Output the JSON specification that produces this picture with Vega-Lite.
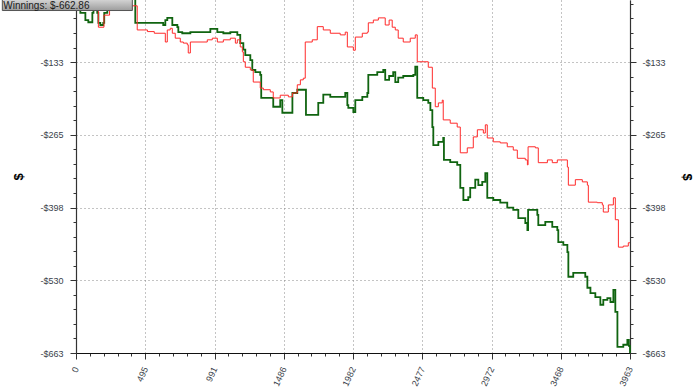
{
  "$schema": "https://vega.github.io/schema/vega-lite/v6.json",
  "width": 554,
  "height": 353,
  "autosize": {"type": "none"},
  "padding": {"left": 76, "top": 0, "right": 70, "bottom": 36},
  "background": "white",
  "config": {"view": {"stroke": null}, "axis": {"labelFont": "Liberation Sans", "titleFont": "Liberation Sans", "grid": false}},
  "datasets": {
    "ev": [
      {"hand":0,"amount":-5},{"hand":60,"amount":-22},{"hand":160,"amount":-69},{"hand":200,"amount":-47},{"hand":240,"amount":-30},{"hand":340,"amount":-38},{"hand":400,"amount":-30},{"hand":438,"amount":-74},{"hand":511,"amount":-77},{"hand":560,"amount":-80},{"hand":639,"amount":-96},{"hand":653,"amount":-74},{"hand":674,"amount":-71},{"hand":689,"amount":-80},{"hand":710,"amount":-89},{"hand":746,"amount":-96},{"hand":768,"amount":-98},{"hand":796,"amount":-101},{"hand":803,"amount":-116},{"hand":818,"amount":-96},{"hand":939,"amount":-92},{"hand":975,"amount":-89},{"hand":1011,"amount":-96},{"hand":1054,"amount":-92},{"hand":1104,"amount":-89},{"hand":1140,"amount":-98},{"hand":1154,"amount":-92},{"hand":1175,"amount":-105},{"hand":1190,"amount":-114},{"hand":1197,"amount":-132},{"hand":1211,"amount":-142},{"hand":1247,"amount":-147},{"hand":1268,"amount":-169},{"hand":1318,"amount":-180},{"hand":1340,"amount":-183},{"hand":1390,"amount":-187},{"hand":1411,"amount":-198},{"hand":1461,"amount":-193},{"hand":1519,"amount":-196},{"hand":1548,"amount":-189},{"hand":1583,"amount":-174},{"hand":1605,"amount":-165},{"hand":1626,"amount":-162},{"hand":1640,"amount":-96},{"hand":1690,"amount":-92},{"hand":1726,"amount":-68},{"hand":1769,"amount":-74},{"hand":1819,"amount":-80},{"hand":1890,"amount":-83},{"hand":1926,"amount":-78},{"hand":1941,"amount":-105},{"hand":1984,"amount":-111},{"hand":1998,"amount":-87},{"hand":2048,"amount":-80},{"hand":2084,"amount":-78},{"hand":2091,"amount":-61},{"hand":2127,"amount":-56},{"hand":2163,"amount":-52},{"hand":2212,"amount":-65},{"hand":2240,"amount":-56},{"hand":2262,"amount":-69},{"hand":2284,"amount":-74},{"hand":2305,"amount":-89},{"hand":2341,"amount":-96},{"hand":2391,"amount":-89},{"hand":2427,"amount":-83},{"hand":2441,"amount":-132},{"hand":2520,"amount":-142},{"hand":2549,"amount":-180},{"hand":2570,"amount":-214},{"hand":2592,"amount":-207},{"hand":2620,"amount":-202},{"hand":2627,"amount":-238},{"hand":2677,"amount":-244},{"hand":2727,"amount":-251},{"hand":2749,"amount":-298},{"hand":2799,"amount":-289},{"hand":2842,"amount":-269},{"hand":2871,"amount":-256},{"hand":2914,"amount":-262},{"hand":2928,"amount":-247},{"hand":2942,"amount":-271},{"hand":2985,"amount":-278},{"hand":3035,"amount":-280},{"hand":3085,"amount":-287},{"hand":3128,"amount":-293},{"hand":3157,"amount":-308},{"hand":3214,"amount":-311},{"hand":3229,"amount":-320},{"hand":3234,"amount":-287},{"hand":3286,"amount":-289},{"hand":3307,"amount":-316},{"hand":3372,"amount":-311},{"hand":3407,"amount":-316},{"hand":3443,"amount":-311},{"hand":3515,"amount":-324},{"hand":3522,"amount":-357},{"hand":3572,"amount":-347},{"hand":3622,"amount":-351},{"hand":3658,"amount":-357},{"hand":3665,"amount":-388},{"hand":3729,"amount":-389},{"hand":3765,"amount":-393},{"hand":3772,"amount":-406},{"hand":3808,"amount":-393},{"hand":3844,"amount":-380},{"hand":3858,"amount":-420},{"hand":3880,"amount":-470},{"hand":3915,"amount":-468},{"hand":3951,"amount":-462},{"hand":3963,"amount":-462}
    ],
    "won": [
      {"hand":0,"amount":-5},{"hand":31,"amount":-43},{"hand":67,"amount":-56},{"hand":88,"amount":-60},{"hand":117,"amount":-43},{"hand":125,"amount":-30},{"hand":152,"amount":-43},{"hand":160,"amount":-61},{"hand":174,"amount":-65},{"hand":195,"amount":-61},{"hand":202,"amount":-43},{"hand":224,"amount":-20},{"hand":300,"amount":-8},{"hand":380,"amount":-12},{"hand":424,"amount":-61},{"hand":624,"amount":-65},{"hand":639,"amount":-56},{"hand":653,"amount":-52},{"hand":689,"amount":-65},{"hand":725,"amount":-69},{"hand":732,"amount":-78},{"hand":760,"amount":-80},{"hand":818,"amount":-78},{"hand":961,"amount":-72},{"hand":1011,"amount":-78},{"hand":1054,"amount":-80},{"hand":1104,"amount":-78},{"hand":1154,"amount":-83},{"hand":1175,"amount":-98},{"hand":1197,"amount":-110},{"hand":1211,"amount":-120},{"hand":1247,"amount":-129},{"hand":1261,"amount":-147},{"hand":1283,"amount":-151},{"hand":1318,"amount":-156},{"hand":1325,"amount":-198},{"hand":1411,"amount":-214},{"hand":1461,"amount":-202},{"hand":1476,"amount":-225},{"hand":1548,"amount":-189},{"hand":1583,"amount":-183},{"hand":1645,"amount":-229},{"hand":1733,"amount":-207},{"hand":1769,"amount":-192},{"hand":1819,"amount":-196},{"hand":1926,"amount":-189},{"hand":1941,"amount":-211},{"hand":1948,"amount":-216},{"hand":1984,"amount":-224},{"hand":1998,"amount":-202},{"hand":2048,"amount":-196},{"hand":2084,"amount":-189},{"hand":2091,"amount":-156},{"hand":2155,"amount":-151},{"hand":2198,"amount":-147},{"hand":2212,"amount":-165},{"hand":2240,"amount":-158},{"hand":2269,"amount":-151},{"hand":2284,"amount":-169},{"hand":2305,"amount":-161},{"hand":2341,"amount":-158},{"hand":2413,"amount":-156},{"hand":2427,"amount":-141},{"hand":2441,"amount":-198},{"hand":2484,"amount":-202},{"hand":2520,"amount":-207},{"hand":2535,"amount":-220},{"hand":2549,"amount":-251},{"hand":2556,"amount":-284},{"hand":2592,"amount":-278},{"hand":2627,"amount":-271},{"hand":2632,"amount":-311},{"hand":2677,"amount":-315},{"hand":2727,"amount":-320},{"hand":2749,"amount":-362},{"hand":2771,"amount":-384},{"hand":2806,"amount":-379},{"hand":2820,"amount":-362},{"hand":2856,"amount":-347},{"hand":2878,"amount":-357},{"hand":2906,"amount":-351},{"hand":2928,"amount":-335},{"hand":2942,"amount":-380},{"hand":2985,"amount":-384},{"hand":3035,"amount":-389},{"hand":3085,"amount":-398},{"hand":3128,"amount":-402},{"hand":3164,"amount":-417},{"hand":3214,"amount":-426},{"hand":3229,"amount":-439},{"hand":3234,"amount":-402},{"hand":3300,"amount":-411},{"hand":3307,"amount":-430},{"hand":3357,"amount":-424},{"hand":3407,"amount":-433},{"hand":3443,"amount":-439},{"hand":3450,"amount":-461},{"hand":3486,"amount":-466},{"hand":3515,"amount":-479},{"hand":3522,"amount":-524},{"hand":3557,"amount":-517},{"hand":3643,"amount":-524},{"hand":3658,"amount":-544},{"hand":3680,"amount":-554},{"hand":3715,"amount":-561},{"hand":3751,"amount":-575},{"hand":3772,"amount":-566},{"hand":3801,"amount":-563},{"hand":3823,"amount":-570},{"hand":3844,"amount":-548},{"hand":3858,"amount":-588},{"hand":3873,"amount":-652},{"hand":3915,"amount":-648},{"hand":3944,"amount":-639},{"hand":3955,"amount":-650},{"hand":3963,"amount":-663}
    ]
  },
  "layer": [
    {
      "data": {"name": "won"},
      "mark": {"type": "line", "interpolate": "step-after", "color": "#106410", "strokeWidth": 1.8},
      "encoding": {
        "x": {"field": "hand", "type": "quantitative"},
        "y": {
          "field": "amount", "type": "quantitative",
          "axis": {
            "orient": "right",
            "title": "$",
            "titleFontSize": 13,
            "titleFontWeight": "bold",
            "titleColor": "#000000",
            "titlePadding": 14,
            "tickCount": 100,
            "grid": false,
            "values": [-26.52,-53.04,-79.56,-106.08,-132.6,-159.12,-185.64,-212.16,-238.68,-265.2,-291.72,-318.24,-344.76,-371.28,-397.8,-424.32,-450.84,-477.36,-503.88,-530.4,-556.92,-583.44,-609.96,-636.48,-663],
            "labelExpr": "abs(datum.value/132.6 - round(datum.value/132.6)) < 0.01 ? '-$' + round(abs(datum.value)) : ''",
            "labelFontSize": 9,
            "labelColor": "#3a3f4a",
            "labelPadding": 6,
            "labelOverlap": false,
            "labelFlush": false,
            "labelBound": false,
            "domainColor": "#333333",
            "domainWidth": 1.2,
            "tickColor": "#333333",
            "tickSize": 6,
            "tickDash": {"condition": {"test": "abs(datum.value/132.6 - round(datum.value/132.6)) < 0.01", "value": [20, 1]}, "value": [3, 20]}
          }
        }
      }
    },
    {
      "layer": [
        {
          "data": {"name": "ev"},
          "mark": {"type": "line", "interpolate": "step-after", "color": "#ff2b2b", "strokeWidth": 1},
          "encoding": {
            "x": {
              "field": "hand", "type": "quantitative",
              "scale": {"domain": [0, 3963], "nice": false, "zero": false},
              "axis": {
                "title": null,
                "orient": "bottom",
                "tickCount": 100,
                "values": [0,99.075,198.15,297.225,396.3,495.375,594.45,693.525,792.6,891.675,990.75,1089.825,1188.9,1287.975,1387.05,1486.125,1585.2,1684.275,1783.35,1882.425,1981.5,2080.575,2179.65,2278.725,2377.8,2476.875,2575.95,2675.025,2774.1,2873.175,2972.25,3071.325,3170.4,3269.475,3368.55,3467.625,3566.7,3665.775,3764.85,3863.925,3963],
                "labelExpr": "abs(datum.value/495.375 - round(datum.value/495.375)) < 0.01 ? '' + round(datum.value) : ''",
                "labelAngle": -65,
                "labelFontSize": 9,
                "labelColor": "#3a3f4a",
                "labelPadding": 8,
                "labelOverlap": false,
                "labelFlush": false,
                "labelBound": false,
                "domainColor": "#111111",
                "domainWidth": 1.2,
                "tickColor": "#333333",
                "tickSize": 6,
                "tickDash": {"condition": {"test": "abs(datum.value/495.375 - round(datum.value/495.375)) < 0.01", "value": [20, 1]}, "value": [3, 20]},
                "grid": true,
                "gridColor": "#888888",
                "gridDash": [1, 3],
                "gridOpacity": {"condition": {"test": "abs(datum.value/495.375 - round(datum.value/495.375)) < 0.01", "value": 1}, "value": 0}
              }
            },
            "y": {
              "field": "amount", "type": "quantitative",
              "scale": {"domain": [-663, -19.4], "nice": false, "zero": false},
              "axis": {
                "orient": "left",
                "title": "$",
                "titleFontSize": 13,
                "titleFontWeight": "bold",
                "titleColor": "#000000",
                "titlePadding": 14,
                "tickCount": 100,
                "values": [-26.52,-53.04,-79.56,-106.08,-132.6,-159.12,-185.64,-212.16,-238.68,-265.2,-291.72,-318.24,-344.76,-371.28,-397.8,-424.32,-450.84,-477.36,-503.88,-530.4,-556.92,-583.44,-609.96,-636.48,-663],
                "labelExpr": "abs(datum.value/132.6 - round(datum.value/132.6)) < 0.01 ? '-$' + round(abs(datum.value)) : ''",
                "labelFontSize": 9,
                "labelColor": "#3a3f4a",
                "labelPadding": 7,
                "labelOverlap": false,
                "labelFlush": false,
                "labelBound": false,
                "domainColor": "#333333",
                "domainWidth": 1.2,
                "tickColor": "#333333",
                "tickSize": 6,
                "tickDash": {"condition": {"test": "abs(datum.value/132.6 - round(datum.value/132.6)) < 0.01", "value": [20, 1]}, "value": [3, 20]},
                "grid": true,
                "gridColor": "#888888",
                "gridDash": [1, 3],
                "gridOpacity": {"condition": {"test": "abs(datum.value/132.6 - round(datum.value/132.6)) < 0.01", "value": 1}, "value": 0}
              }
            }
          }
        },
        {
          "data": {"values": [{"label": "Winnings: $-662.86"}]},
          "mark": {"type": "rect", "stroke": "#555555", "strokeWidth": 1, "fill": {"gradient": "linear", "x1": 0, "y1": 0, "x2": 0, "y2": 1, "stops": [{"offset": 0, "color": "#dcdcdc"}, {"offset": 1, "color": "#9c9c9c"}]}},
          "encoding": {
            "x": {"datum": -527, "type": "quantitative"},
            "x2": {"datum": 403},
            "y": {"datum": -15.8, "type": "quantitative"},
            "y2": {"datum": -38.6}
          }
        },
        {
          "data": {"values": [{"label": "Winnings: $-662.86"}]},
          "mark": {"type": "text", "align": "left", "baseline": "alphabetic", "font": "Liberation Sans", "fontSize": 10, "color": "#1a1a1a"},
          "encoding": {
            "x": {"datum": -520, "type": "quantitative"},
            "y": {"datum": -34.9, "type": "quantitative"},
            "text": {"field": "label"}
          }
        }
      ]
    }
  ],
  "resolve": {"axis": {"y": "independent"}}
}
